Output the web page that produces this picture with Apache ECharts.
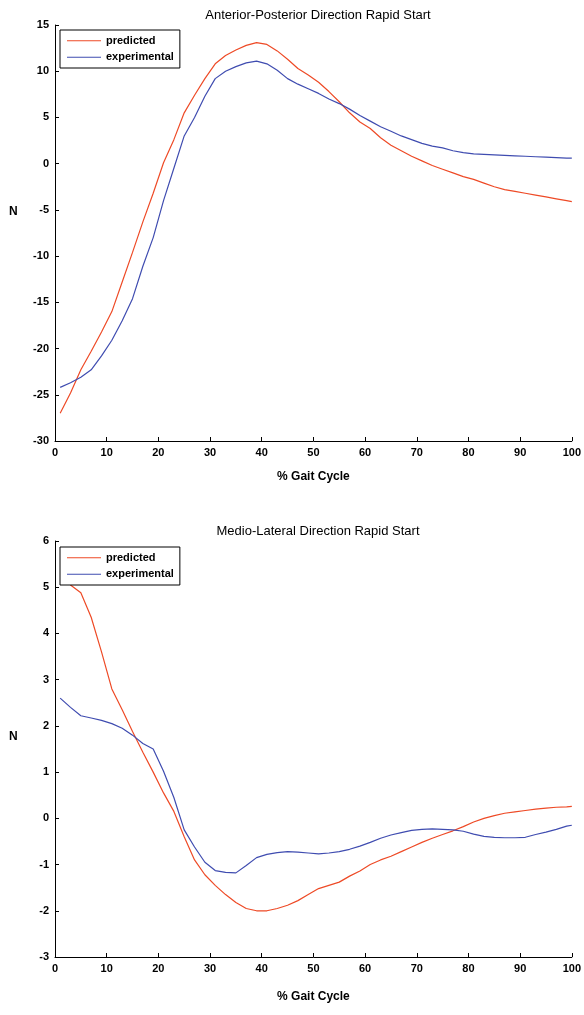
<!DOCTYPE html>
<html>
<head>
<meta charset="utf-8">
<title>Rapid Start</title>
<script src="https://cdn.jsdelivr.net/npm/echarts@6/dist/echarts.min.js"></script>
<style>
  html, body { margin: 0; padding: 0; background: #fff; }
  #chart { width: 584px; height: 1015px; }
</style>
</head>
<body>
<div id="chart"></div>
<script>
// % gait cycle (shared by both plots)
const pct = [1, 3, 5, 7, 9, 11, 13, 15, 17, 19, 21, 23, 25, 27, 29, 31, 33, 35, 37, 39,
  41, 43, 45, 47, 49, 51, 53, 55, 57, 59, 61, 63, 65, 67, 69, 71, 73, 75, 77, 79,
  81, 83, 85, 87, 89, 91, 93, 95, 97, 99, 100]

// anterior-posterior
const apPredicted = [-27.0, -24.8, -22.3, -20.3, -18.2, -16.0, -12.8, -9.6, -6.3, -3.2,
  0.1, 2.6, 5.5, 7.4, 9.2, 10.8, 11.7, 12.3, 12.8, 13.1,
  12.9, 12.2, 11.3, 10.3, 9.6, 8.8, 7.8, 6.7, 5.5, 4.5,
  3.8, 2.8, 2.0, 1.4, 0.8, 0.3, -0.2, -0.6, -1.0, -1.4,
  -1.7, -2.1, -2.5, -2.8, -3.0, -3.2, -3.4, -3.6, -3.8, -4.0, -4.1]
const apExperimental = [-24.2, -23.7, -23.1, -22.3, -20.8, -19.1, -17.0, -14.6, -11.1, -8.0,
  -4.0, -0.5, 3.0, 5.0, 7.3, 9.2, 10.0, 10.5, 10.9, 11.1,
  10.8, 10.1, 9.2, 8.6, 8.1, 7.6, 7.0, 6.5, 5.9, 5.2,
  4.6, 4.0, 3.5, 3.0, 2.6, 2.2, 1.9, 1.7, 1.4, 1.2,
  1.05, 1.0, 0.95, 0.9, 0.85, 0.8, 0.75, 0.7, 0.65, 0.6, 0.6]

// medio-lateral
const mlPredicted = [5.25, 5.05, 4.88, 4.35, 3.6, 2.8, 2.35, 1.88, 1.43, 1.0,
  0.55, 0.15, -0.4, -0.9, -1.22, -1.45, -1.65, -1.82, -1.95, -2.0,
  -2.0, -1.95, -1.88, -1.78, -1.65, -1.52, -1.45, -1.38, -1.25, -1.14,
  -1.0, -0.9, -0.82, -0.72, -0.62, -0.52, -0.43, -0.35, -0.27, -0.18,
  -0.08, 0.0, 0.06, 0.11, 0.14, 0.17, 0.2, 0.22, 0.24, 0.25, 0.26]
const mlExperimental = [2.6, 2.4, 2.22, 2.17, 2.12, 2.05, 1.95, 1.8, 1.62, 1.5,
  1.02, 0.45, -0.25, -0.62, -0.95, -1.13, -1.17, -1.18, -1.02, -0.85,
  -0.78, -0.74, -0.72, -0.73, -0.75, -0.77, -0.75, -0.72, -0.67, -0.6,
  -0.52, -0.43, -0.36, -0.31, -0.26, -0.24, -0.23, -0.24, -0.25, -0.28,
  -0.34, -0.39, -0.41, -0.42, -0.42, -0.41, -0.35, -0.3, -0.24, -0.17, -0.15]

const titles = ['Anterior-Posterior Direction Rapid Start', 'Medio-Lateral Direction Rapid Start']
const xTitle = '% Gait Cycle'
const yTitle = 'N'
const seriesNames = ['predicted', 'experimental']

const FONT = 'Liberation Sans, Arial, sans-serif'
const RED = '#ee4a26'
const BLUE = '#3f4cb0'

const zip = (xs, ys) => xs.map((x, i) => [x, ys[i]])

const axisCommon = {
  axisLine: { show: true, onZero: false, lineStyle: { color: '#000', width: 1 } },
  axisTick: { show: true, inside: true, length: 4, lineStyle: { color: '#000' } },
  splitLine: { show: false },
  axisLabel: { color: '#000', fontFamily: FONT, fontSize: 11, fontWeight: 'bold', margin: 6 },
  nameTextStyle: { color: '#000', fontFamily: FONT, fontSize: 12, fontWeight: 'bold' }
}

const xAxisFor = (gridIndex, gap) => ({
  ...axisCommon,
  type: 'value',
  gridIndex,
  min: 0,
  max: 100,
  interval: 10,
  name: xTitle,
  nameLocation: 'middle',
  nameGap: gap
})

// matlab-ish legend box, thin line markers
const legendFor = top => ({
  show: true,
  top,
  left: 60,
  orient: 'vertical',
  data: seriesNames,
  icon: 'rect',
  itemWidth: 34,
  itemHeight: 1.2,
  itemGap: 3,
  padding: [4, 6, 4, 7],
  backgroundColor: '#fff',
  borderColor: '#000',
  borderWidth: 1,
  textStyle: { color: '#000', fontFamily: FONT, fontSize: 11, fontWeight: 'bold', lineHeight: 13.5 }
})

const lineSeries = (name, data, color, idx) => ({
  name,
  type: 'line',
  xAxisIndex: idx,
  yAxisIndex: idx,
  data,
  symbol: 'none',
  smooth: false,
  lineStyle: { color, width: 1.2 },
  itemStyle: { color },
  animation: false
})

const nameLabel = top => ({
  type: 'text',
  left: 9,
  top,
  style: { text: yTitle, fill: '#000', font: 'bold 12px ' + FONT }
})

const option = {
  backgroundColor: '#fff',
  animation: false,
  title: [
    { text: titles[0], left: 313, top: 4, textAlign: 'center',
      textStyle: { color: '#000', fontFamily: FONT, fontSize: 13, fontWeight: 'normal' } },
    { text: titles[1], left: 313, top: 520, textAlign: 'center',
      textStyle: { color: '#000', fontFamily: FONT, fontSize: 13, fontWeight: 'normal' } }
  ],
  legend: [legendFor(30), legendFor(547)],
  grid: [
    { left: 55, top: 25, width: 517, height: 416 },
    { left: 55, top: 541, width: 517, height: 416 }
  ],
  graphic: [nameLabel(206), nameLabel(731)],
  xAxis: [xAxisFor(0, 30), xAxisFor(1, 34)],
  yAxis: [
    { ...axisCommon, type: 'value', gridIndex: 0, min: -30, max: 15, interval: 5 },
    { ...axisCommon, type: 'value', gridIndex: 1, min: -3, max: 6, interval: 1 }
  ],
  series: [
    lineSeries(seriesNames[0], zip(pct, apPredicted), RED, 0),
    lineSeries(seriesNames[1], zip(pct, apExperimental), BLUE, 0),
    lineSeries(seriesNames[0], zip(pct, mlPredicted), RED, 1),
    lineSeries(seriesNames[1], zip(pct, mlExperimental), BLUE, 1)
  ]
}

const chart = echarts.init(document.getElementById('chart'), null, { renderer: 'canvas' })
chart.setOption(option)
</script>
</body>
</html>
